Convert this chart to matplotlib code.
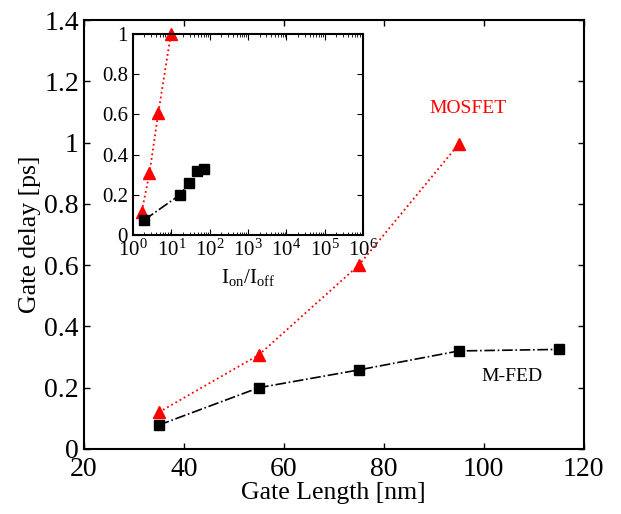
import matplotlib
matplotlib.use("Agg")
import matplotlib.pyplot as plt
from matplotlib.ticker import LogLocator, NullFormatter

plt.rcParams['font.family'] = ['Liberation Serif', 'DejaVu Serif']
plt.rcParams['mathtext.fontset'] = 'custom'
plt.rcParams['mathtext.rm'] = 'Liberation Serif'
plt.rcParams['mathtext.it'] = 'Liberation Serif:italic'

# main plot data
gate_len_mos = [35, 55, 75, 95]
delay_mos = [0.12, 0.307, 0.60, 0.995]
gate_len_mfed = [35, 55, 75, 95, 115]
delay_mfed = [0.078, 0.20, 0.258, 0.32, 0.325]

# inset data
ionoff_mos = [1.7, 2.7, 4.6, 9.8]
inset_delay_mos = [0.116, 0.307, 0.608, 1.0]
ionoff_mfed = [2.0, 17, 29, 46, 73]
inset_delay_mfed = [0.075, 0.20, 0.26, 0.32, 0.327]

fig = plt.figure(figsize=(6.21, 5.14), dpi=100)
ax = fig.add_axes([0.135, 0.1265, 0.805, 0.8345])

ax.plot(gate_len_mos, delay_mos, color='red', linestyle=':', lw=1.3,
        marker='^', ms=9, mec='red', mfc='red')
ax.plot(gate_len_mfed, delay_mfed, color='black', linestyle='-.', lw=1.2,
        marker='s', ms=7, mec='black', mfc='black')
ax.text(96.8, 1.11, 'MOSFET', color='red', fontsize=14, ha='center', va='center')
ax.text(105.6, 0.235, 'M-FED', color='black', fontsize=14, ha='center', va='center')

ax.set_xlim(20, 120)
ax.set_ylim(0, 1.4)
ax.set_xticks([20, 40, 60, 80, 100, 120])
ax.set_yticks([0, 0.2, 0.4, 0.6, 0.8, 1.0, 1.2, 1.4])
ax.set_yticklabels(['0', '0.2', '0.4', '0.6', '0.8', '1', '1.2', '1.4'])
ax.tick_params(direction='in', top=True, right=True, labelsize=20, length=4, width=1)
ax.tick_params(axis='x', pad=6)
ax.set_xlabel('Gate Length [nm]', fontsize=18.5, labelpad=0)
ax.set_ylabel('Gate delay [ps]', fontsize=18.5, labelpad=2)
for s in ax.spines.values():
    s.set_linewidth(1.5)

ins = fig.add_axes([0.214, 0.543, 0.371, 0.391])
ins.plot(ionoff_mos, inset_delay_mos, color='red', linestyle=':', lw=1.3,
         marker='^', ms=9, mec='red', mfc='red', clip_on=False)
ins.plot(ionoff_mfed, inset_delay_mfed, color='black', linestyle='-.', lw=1.2,
         marker='s', ms=7.5, mec='black', mfc='black', clip_on=False)
ins.set_xscale('log')
ins.set_xlim(1, 1e6)
ins.set_ylim(0, 1)
ins.set_xticks([1, 10, 100, 1e3, 1e4, 1e5, 1e6])
ins.xaxis.set_minor_locator(LogLocator(base=10, subs=range(2, 10), numticks=20))
ins.xaxis.set_minor_formatter(NullFormatter())
ins.set_yticks([0, 0.2, 0.4, 0.6, 0.8, 1.0])
ins.set_yticklabels(['0', '0.2', '0.4', '0.6', '0.8', '1'])
ins.tick_params(which='both', direction='in', top=True, right=True, labelsize=15)
ins.tick_params(which='major', length=4)
ins.tick_params(which='minor', length=2)
ins.set_xlabel(r'I$_{\rm on}$/I$_{\rm off}$', fontsize=15, labelpad=4)
for s in ins.spines.values():
    s.set_linewidth(1.5)

fig.savefig('out.png', dpi=100)
